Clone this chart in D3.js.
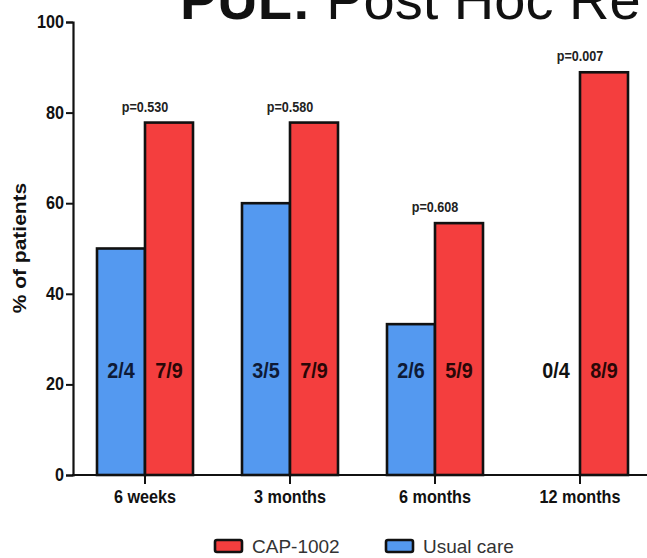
<!DOCTYPE html>
<html>
<head>
<meta charset="utf-8">
<script src="https://cdn.jsdelivr.net/npm/d3@7"></script>
<style>
  html, body { margin: 0; padding: 0; background: #fff; overflow: hidden; }
  svg { display: block; }
  text { font-family: "Liberation Sans", Arial, Helvetica, sans-serif; }
</style>
</head>
<body>
<svg id="chart" width="647" height="558"></svg>
<script>
// ---- data ----
const categories = ["6 weeks", "3 months", "6 months", "12 months"];
const seriesNames = ["Usual care", "CAP-1002"];
const usualCare = [50, 60, 33.3, 0];
const cap1002 = [77.8, 77.8, 55.6, 88.9];
const usualFractions = ["2/4", "3/5", "2/6", "0/4"];
const capFractions = ["7/9", "7/9", "5/9", "8/9"];
const pValues = ["p=0.530", "p=0.580", "p=0.608", "p=0.007"];
const yTicks = [0, 20, 40, 60, 80, 100];
const legendOrder = ["CAP-1002", "Usual care"];

const colors = { "Usual care": "#5499f0", "CAP-1002": "#f43e3e" };
const textColors = { "Usual care": "#0e1a36", "CAP-1002": "#2a0707" };

const svg = d3.select("#chart");
const SX = 0.9; // horizontal condensing of chart lettering

const y = d3.scaleLinear().domain([0, 100]).range([475, 22]);
const x = d3.scaleBand().domain(categories).range([72.5, 652.5]).paddingInner(0).paddingOuter(0);
const xs = d3.scaleBand().domain(seriesNames).range([24.5, 120.5]);

function ctext(g, tx, ty, str, opts) {
  const t = g.append("text")
    .attr("transform", `translate(${tx},${ty}) scale(${opts.sx || SX},1)` + (opts.rot ? ` rotate(${opts.rot})` : ""))
    .attr("text-anchor", opts.anchor || "middle")
    .attr("font-size", opts.size)
    .attr("font-weight", opts.weight || "bold")
    .attr("fill", opts.fill || "#111")
    .text(str);
  return t;
}

// Title (cut off by the top edge)
const title = svg.append("text")
  .attr("x", 180).attr("y", 19)
  .attr("font-size", 56)
  .attr("fill", "#111");
title.append("tspan").attr("font-weight", "bold").text("PUL:");
title.append("tspan").attr("font-weight", "normal").text(" Post Hoc Re");

// Bars
const rows = categories.map((c, i) => ({
  cat: c,
  vals: [
    { s: "Usual care", v: usualCare[i], f: usualFractions[i] },
    { s: "CAP-1002", v: cap1002[i], f: capFractions[i] }
  ],
  p: pValues[i]
}));

const groups = svg.append("g").selectAll("g.grp").data(rows).join("g")
  .attr("class", "grp")
  .attr("transform", d => `translate(${x(d.cat)},0)`);

groups.selectAll("rect").data(d => d.vals.filter(v => v.v > 0)).join("rect")
  .attr("x", d => xs(d.s))
  .attr("width", xs.bandwidth())
  .attr("y", d => y(d.v))
  .attr("height", d => y(0) - y(d.v))
  .attr("fill", d => colors[d.s])
  .attr("stroke", "#111")
  .attr("stroke-width", 2.6);

// Fraction labels inside bars
groups.each(function(d) {
  const g = d3.select(this);
  d.vals.forEach(v => {
    ctext(g, xs(v.s) + xs.bandwidth() / 2, 378, v.f,
      { size: 22, fill: v.v > 0 ? textColors[v.s] : "#111" });
  });
  // p-value above the taller bar, centered on the group
  const top = d3.max(d.vals, v => v.v);
  ctext(g, x.bandwidth() / 2, y(top) - 11, d.p, { size: 14, fill: "#222" });
});

// Y axis
const yAxis = svg.append("g").attr("transform", "translate(73,0)")
  .call(d3.axisLeft(y).tickValues(yTicks).tickSize(7).tickPadding(3).tickFormat(d3.format("d")));
yAxis.select(".domain").attr("stroke", "#111").attr("stroke-width", 2.2);
yAxis.selectAll(".tick line").attr("stroke", "#111").attr("stroke-width", 2);
yAxis.selectAll(".tick text").remove();
yTicks.forEach(t => ctext(yAxis, -9, y(t) + 6, String(t), { size: 18, anchor: "end", fill: "#111" }));

// X axis
const xAxis = svg.append("g").attr("transform", `translate(0,${y(0)})`)
  .call(d3.axisBottom(x).tickSize(9).tickPadding(4));
xAxis.select(".domain").attr("stroke", "#111").attr("stroke-width", 2.2)
  .attr("d", "M72,0H647");
xAxis.selectAll(".tick line").attr("stroke", "#111").attr("stroke-width", 2);
xAxis.selectAll(".tick text").remove();
categories.forEach(c => ctext(xAxis, x(c) + x.bandwidth() / 2, 28, c, { size: 18, fill: "#111" }));

// Y axis title
ctext(svg, 26, 248, "% of patients", { size: 21, rot: -90, sx: 0.85, fill: "#111" });

// Legend
const legendPos = { "CAP-1002": 215, "Usual care": 386 };
const lg = svg.append("g");
legendOrder.forEach(name => {
  const lx = legendPos[name];
  lg.append("rect")
    .attr("x", lx).attr("y", 540)
    .attr("width", 27).attr("height", 12)
    .attr("rx", 2)
    .attr("fill", colors[name])
    .attr("stroke", "#111").attr("stroke-width", 2.6);
  lg.append("text")
    .attr("x", lx + 37).attr("y", 553)
    .attr("font-size", 19)
    .attr("fill", "#333")
    .text(name);
});
</script>
</body>
</html>
